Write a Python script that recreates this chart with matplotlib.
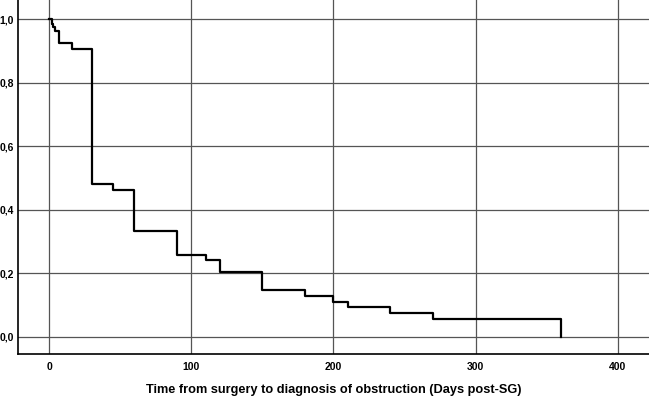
import matplotlib
matplotlib.use('Agg')
import matplotlib.pyplot as plt
from matplotlib.ticker import FuncFormatter

# Kaplan-Meier step values
times = [0, 2, 3, 4, 7, 16, 30, 45, 60, 90, 110, 120, 150, 180, 200, 210, 240, 270, 360]
survival = [1.0, 0.985, 0.975, 0.963, 0.926, 0.907, 0.482, 0.463, 0.333, 0.259, 0.241,
            0.204, 0.148, 0.130, 0.111, 0.093, 0.074, 0.056, 0.0]

x_ticks = [0, 100, 200, 300, 400]
y_ticks = [0.0, 0.2, 0.4, 0.6, 0.8, 1.0]

plt.rcParams['font.family'] = ['Liberation Sans', 'DejaVu Sans']

fig = plt.figure(figsize=(6.49, 4.01), dpi=100)
ax = fig.add_axes([0.028, 0.117, 0.972, 0.883])

ax.step(times, survival, where='post', color='black', linewidth=1.6, zorder=3)

ax.set_xlim(-21.8, 422)
ax.set_ylim(-0.054, 1.06)
ax.set_xticks(x_ticks)
ax.set_yticks(y_ticks)
ax.yaxis.set_major_formatter(FuncFormatter(lambda v, p: f"{v:.1f}".replace('.', ',')))
ax.tick_params(length=0, labelsize=7.5, pad=3)
for lab in ax.get_xticklabels() + ax.get_yticklabels():
    lab.set_fontweight('bold')
ax.tick_params(axis='x', pad=6)

ax.grid(True, color='#555555', linewidth=0.9)
ax.set_axisbelow(True)
for side in ['top', 'right']:
    ax.spines[side].set_visible(False)
for side in ['left', 'bottom']:
    ax.spines[side].set_color('black')
    ax.spines[side].set_linewidth(1.2)

ax.set_xlabel('Time from surgery to diagnosis of obstruction (Days post-SG)',
              fontsize=9.2, fontweight='bold', labelpad=8)

fig.savefig('out.png', dpi=100)
